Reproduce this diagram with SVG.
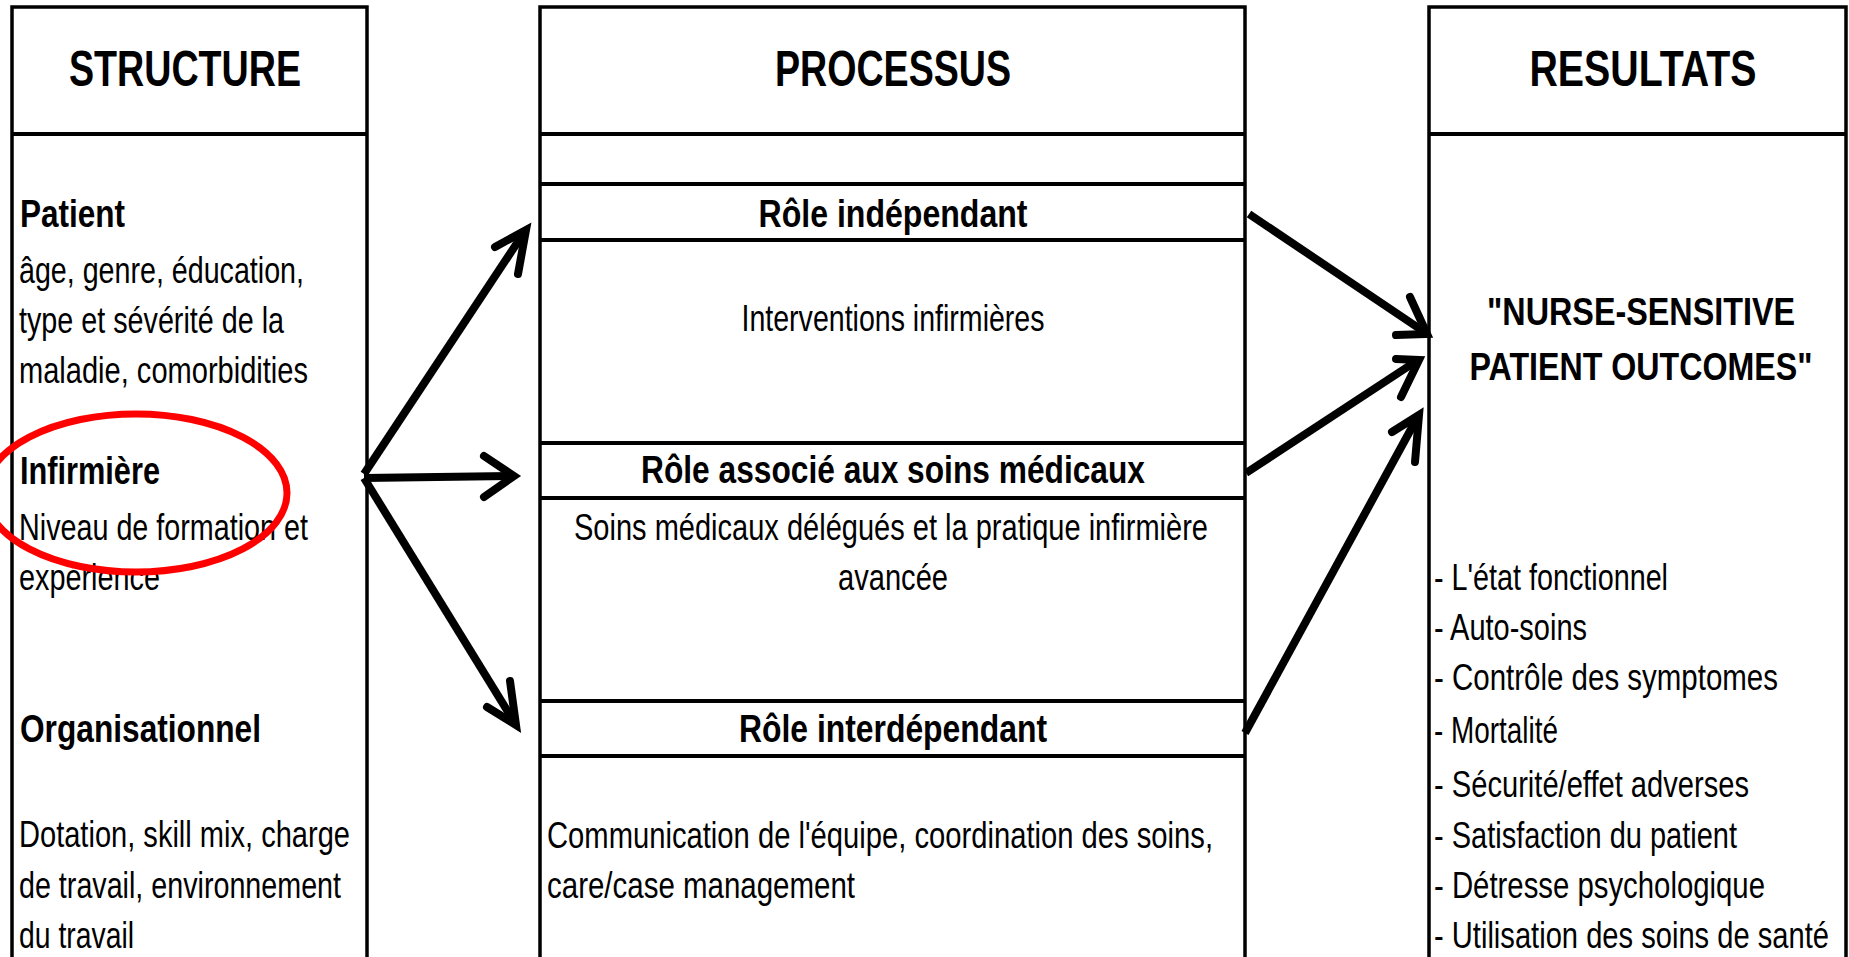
<svg xmlns="http://www.w3.org/2000/svg" width="1849" height="957" viewBox="0 0 1849 957">
<style>
.box{fill:#fff;stroke:#000;stroke-width:3.5}
.div{stroke:#000;stroke-width:4;fill:none}
text{font-family:"Liberation Sans Narrow","Liberation Sans",Arial,sans-serif;fill:#000}
.h{font-size:50px;font-weight:bold}
.b{font-size:38px;font-weight:bold}
.n{font-size:37px}
.c{text-anchor:middle}
.arr{stroke:#000;stroke-width:8;fill:none;stroke-linecap:butt}
.head{stroke:#000;stroke-width:8;fill:none;stroke-linecap:round;stroke-linejoin:miter}
</style>
<rect width="1849" height="957" fill="#fff"/>

<g id="structure">
<rect class="box" x="12" y="7" width="355" height="960"/>
<line class="div" x1="12" y1="134" x2="367" y2="134"/>
<text class="h c" x="185" y="86" textLength="232" lengthAdjust="spacingAndGlyphs">STRUCTURE</text>
<text class="b" x="20" y="227" textLength="105" lengthAdjust="spacingAndGlyphs">Patient</text>
<text class="n" x="19" y="283" textLength="285" lengthAdjust="spacingAndGlyphs">âge, genre, éducation,</text>
<text class="n" x="19" y="333" textLength="265" lengthAdjust="spacingAndGlyphs">type et sévérité de la</text>
<text class="n" x="19" y="383" textLength="289" lengthAdjust="spacingAndGlyphs">maladie, comorbidities</text>
<text class="b" x="20" y="484" textLength="140" lengthAdjust="spacingAndGlyphs">Infirmière</text>
<text class="n" x="19" y="540" textLength="289" lengthAdjust="spacingAndGlyphs">Niveau de formation et</text>
<text class="n" x="19" y="590" textLength="141" lengthAdjust="spacingAndGlyphs">expérience</text>
<text class="b" x="20" y="742" textLength="241" lengthAdjust="spacingAndGlyphs">Organisationnel</text>
<text class="n" x="19" y="847" textLength="331" lengthAdjust="spacingAndGlyphs">Dotation, skill mix, charge</text>
<text class="n" x="19" y="898" textLength="322" lengthAdjust="spacingAndGlyphs">de travail, environnement</text>
<text class="n" x="19" y="948" textLength="115" lengthAdjust="spacingAndGlyphs">du travail</text>
</g>

<g id="processus">
<rect class="box" x="540" y="7" width="705" height="960"/>
<line class="div" x1="540" y1="134" x2="1245" y2="134"/>
<line class="div" x1="540" y1="184" x2="1245" y2="184"/>
<line class="div" x1="540" y1="240" x2="1245" y2="240"/>
<line class="div" x1="540" y1="443" x2="1245" y2="443"/>
<line class="div" x1="540" y1="498" x2="1245" y2="498"/>
<line class="div" x1="540" y1="701" x2="1245" y2="701"/>
<line class="div" x1="540" y1="756" x2="1245" y2="756"/>
<text class="h c" x="893" y="86" textLength="236" lengthAdjust="spacingAndGlyphs">PROCESSUS</text>
<text class="b c" x="893" y="227" textLength="269" lengthAdjust="spacingAndGlyphs">Rôle indépendant</text>
<text class="n c" x="893" y="331" textLength="303" lengthAdjust="spacingAndGlyphs">Interventions infirmières</text>
<text class="b c" x="893" y="483" textLength="504" lengthAdjust="spacingAndGlyphs">Rôle associé aux soins médicaux</text>
<text class="n c" x="891" y="540" textLength="634" lengthAdjust="spacingAndGlyphs">Soins médicaux délégués et la pratique infirmière</text>
<text class="n c" x="893" y="590" textLength="110" lengthAdjust="spacingAndGlyphs">avancée</text>
<text class="b c" x="893" y="742" textLength="308" lengthAdjust="spacingAndGlyphs">Rôle interdépendant</text>
<text class="n" x="547" y="848" textLength="666" lengthAdjust="spacingAndGlyphs">Communication de l'équipe, coordination des soins,</text>
<text class="n" x="547" y="898" textLength="308" lengthAdjust="spacingAndGlyphs">care/case management</text>
</g>

<g id="resultats">
<rect class="box" x="1429" y="7" width="417" height="960"/>
<line class="div" x1="1429" y1="134" x2="1846" y2="134"/>
<text class="h c" x="1643" y="86" textLength="227" lengthAdjust="spacingAndGlyphs">RESULTATS</text>
<text class="b c" x="1641" y="325" textLength="308" lengthAdjust="spacingAndGlyphs">"NURSE-SENSITIVE</text>
<text class="b c" x="1641" y="380" textLength="343" lengthAdjust="spacingAndGlyphs">PATIENT OUTCOMES"</text>
<text class="n" x="1434" y="590" textLength="234" lengthAdjust="spacingAndGlyphs">- L'état fonctionnel</text>
<text class="n" x="1434" y="640" textLength="153" lengthAdjust="spacingAndGlyphs">- Auto-soins</text>
<text class="n" x="1434" y="690" textLength="344" lengthAdjust="spacingAndGlyphs">- Contrôle des symptomes</text>
<text class="n" x="1434" y="743" textLength="124" lengthAdjust="spacingAndGlyphs">- Mortalité</text>
<text class="n" x="1434" y="797" textLength="315" lengthAdjust="spacingAndGlyphs">- Sécurité/effet adverses</text>
<text class="n" x="1434" y="848" textLength="303" lengthAdjust="spacingAndGlyphs">- Satisfaction du patient</text>
<text class="n" x="1434" y="898" textLength="331" lengthAdjust="spacingAndGlyphs">- Détresse psychologique</text>
<text class="n" x="1434" y="948" textLength="395" lengthAdjust="spacingAndGlyphs">- Utilisation des soins de santé</text>
</g>

<g id="connectors">
<line class="arr" x1="364" y1="474" x2="523" y2="234"/>
<polyline class="head" points="495,247 526,230 518,274"/>
<line class="arr" x1="364" y1="478" x2="510" y2="476"/>
<polyline class="head" points="484,456 514,476 484,497"/>
<line class="arr" x1="364" y1="478" x2="513" y2="720"/>
<polyline class="head" points="510,681 516,725 487,707"/>
<line class="arr" x1="1249" y1="214" x2="1423" y2="331"/>
<polyline class="head" points="1410,297 1427,334 1396,335"/>
<line class="arr" x1="1246" y1="473" x2="1415" y2="362"/>
<polyline class="head" points="1396,359 1419,360 1401,397"/>
<line class="arr" x1="1245" y1="733" x2="1416" y2="420"/>
<polyline class="head" points="1392,432 1419,415 1415,462"/>
</g>

<g id="highlight">
<ellipse cx="136" cy="493" rx="151" ry="79" fill="none" stroke="#f00" stroke-width="7"/>
</g>
</svg>
